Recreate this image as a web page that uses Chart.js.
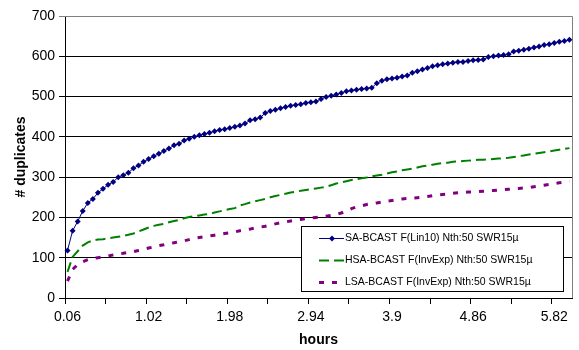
<!DOCTYPE html>
<html>
<head>
<meta charset="utf-8">
<script src="https://cdn.jsdelivr.net/npm/chart.js@4.4.1/dist/chart.umd.min.js"></script>
<style>
  html, body { margin: 0; padding: 0; background: #fff; }
  #wrap { width: 579px; height: 350px; position: relative; }
</style>
</head>
<body>
<div id="wrap"><canvas id="chart"></canvas></div>
<script>
// hours (one category every 0.06 h)
const hours = [
  0.06, 0.12, 0.18, 0.24, 0.3, 0.36, 0.42, 0.48, 0.54, 0.6,
  0.66, 0.72, 0.78, 0.84, 0.9, 0.96, 1.02, 1.08, 1.14, 1.2,
  1.26, 1.32, 1.38, 1.44, 1.5, 1.56, 1.62, 1.68, 1.74, 1.8,
  1.86, 1.92, 1.98, 2.04, 2.1, 2.16, 2.22, 2.28, 2.34, 2.4,
  2.46, 2.52, 2.58, 2.64, 2.7, 2.76, 2.82, 2.88, 2.94, 3,
  3.06, 3.12, 3.18, 3.24, 3.3, 3.36, 3.42, 3.48, 3.54, 3.6,
  3.66, 3.72, 3.78, 3.84, 3.9, 3.96, 4.02, 4.08, 4.14, 4.2,
  4.26, 4.32, 4.38, 4.44, 4.5, 4.56, 4.62, 4.68, 4.74, 4.8,
  4.86, 4.92, 4.98, 5.04, 5.1, 5.16, 5.22, 5.28, 5.34, 5.4,
  5.46, 5.52, 5.58, 5.64, 5.7, 5.76, 5.82, 5.88, 5.94, 6
];

const saBcast = [
  118, 167, 190, 216, 236, 246, 261, 271, 281, 288,
  300, 305, 311, 322, 329, 338, 345, 352, 358, 365,
  371, 379, 383, 391, 395, 400, 404, 407, 410, 414,
  417, 419, 422, 425, 428, 433, 441, 444, 448, 459,
  464, 467, 471, 474, 477, 479, 481, 484, 486, 488,
  494, 499, 502, 505, 509, 513, 515, 517, 519, 520,
  522, 533, 539, 543, 545, 547, 550, 552, 559, 563,
  567, 571, 575, 578, 580, 582, 584, 586, 586, 588,
  590, 591, 592, 598, 600, 602, 603, 605, 612, 614,
  616, 619, 622, 624, 628, 630, 633, 636, 638, 641
];

const hsaBcast = [
  65, 102, 116, 130, 138, 143, 145, 146, 148, 150,
  152, 154, 157, 160, 165, 170, 175, 179, 182, 184,
  188, 191, 194, 198, 201, 203, 205, 207, 209, 212,
  215, 218, 221, 223, 230, 233, 237, 240, 243, 246,
  250, 253, 256, 259, 262, 264, 266, 268, 270, 272,
  274, 276, 280, 284, 287, 290, 293, 295, 297, 299,
  302, 304, 306, 309, 312, 314, 317, 319, 321, 324,
  327, 329, 331, 333, 335, 336, 338, 339, 340, 341,
  342, 343, 343, 344, 345, 346, 347, 348, 350, 352,
  354, 356, 358, 360, 362, 364, 366, 368, 370, 372
];

const lsaBcast = [
  42, 71, 83, 90, 95, 98, 100, 102, 104, 107,
  109, 111, 113, 115, 118, 121, 124, 127, 130, 132,
  135, 137, 140, 142, 145, 148, 150, 152, 154, 156,
  158, 160, 162, 164, 167, 169, 171, 174, 176, 178,
  181, 184, 187, 189, 191, 193, 195, 197, 199, 200,
  201, 203, 205, 208, 211, 216, 222, 226, 229, 232,
  234, 236, 238, 240, 242, 244, 246, 247, 248, 249,
  250, 252, 254, 256, 257, 258, 260, 261, 262, 263,
  263, 264, 265, 266, 267, 268, 269, 270, 271, 272,
  273, 274, 276, 278, 280, 282, 284, 286, 288, 290
];

const seriesNames = [
  'SA-BCAST F(Lin10) Nth:50 SWR15\u00b5',
  'HSA-BCAST F(InvExp) Nth:50 SWR15\u00b5',
  'LSA-BCAST F(InvExp) Nth:50 SWR15\u00b5'
];

const FONT = "'Liberation Sans', Arial, sans-serif";

// gray frame on top and right of the plot area
const plotFrame = {
  id: 'plotFrame',
  beforeDatasetsDraw(chart) {
    const { ctx, chartArea: a } = chart;
    ctx.save();
    ctx.strokeStyle = '#808080';
    ctx.lineWidth = 1;
    ctx.beginPath();
    ctx.moveTo(a.left, Math.round(a.top) + 0.5);
    ctx.lineTo(Math.round(a.right) + 0.5, Math.round(a.top) + 0.5);
    ctx.lineTo(Math.round(a.right) + 0.5, a.bottom);
    ctx.stroke();
    ctx.restore();
  }
};

// boxed legend inside the plot, bottom right
const boxLegend = {
  id: 'boxLegend',
  afterDraw(chart) {
    const { ctx, chartArea: a } = chart;
    const w = 262, h = 65;
    const x = Math.round(a.right - 9 - w), y = Math.round(a.bottom - 7 - h);
    ctx.save();
    ctx.fillStyle = '#fff';
    ctx.fillRect(x, y, w, h);
    ctx.strokeStyle = '#000';
    ctx.lineWidth = 1;
    ctx.strokeRect(x + 0.5, y + 0.5, w, h);
    ctx.font = '10.5px ' + FONT;
    ctx.textBaseline = 'middle';
    chart.data.datasets.forEach((ds, i) => {
      const cy = Math.round(y + 11.5 + i * 22) + 0.5;
      ctx.save();
      ctx.strokeStyle = ds.borderColor;
      ctx.lineWidth = ds.borderWidth;
      ctx.setLineDash(ds.borderDash || []);
      ctx.beginPath();
      ctx.moveTo(x + 18, cy);
      ctx.lineTo(x + 43, cy);
      ctx.stroke();
      ctx.restore();
      if (ds.pointRadius > 0) {
        const r = ds.pointRadius;
        ctx.fillStyle = ds.pointBackgroundColor;
        ctx.beginPath();
        ctx.moveTo(x + 31, cy - r);
        ctx.lineTo(x + 31 + r, cy);
        ctx.lineTo(x + 31, cy + r);
        ctx.lineTo(x + 31 - r, cy);
        ctx.closePath();
        ctx.fill();
      }
      ctx.fillStyle = '#000';
      ctx.fillText(ds.label, x + 44, cy);
    });
    ctx.restore();
  }
};

new Chart(document.getElementById('chart'), {
  type: 'line',
  data: {
    labels: hours.map(String),
    datasets: [
      {
        label: seriesNames[0],
        data: saBcast,
        borderColor: '#000080',
        backgroundColor: '#000080',
        borderWidth: 1,
        pointStyle: 'rectRot',
        pointRadius: 3,
        pointBackgroundColor: '#000080',
        pointBorderColor: '#000080',
        pointBorderWidth: 0,
        tension: 0
      },
      {
        label: seriesNames[1],
        data: hsaBcast,
        borderColor: '#008000',
        borderWidth: 2,
        borderDash: [10, 5],
        pointRadius: 0,
        tension: 0
      },
      {
        label: seriesNames[2],
        data: lsaBcast,
        borderColor: '#800080',
        borderWidth: 3,
        borderDash: [5, 8],
        pointRadius: 0,
        tension: 0
      }
    ]
  },
  options: {
    responsive: true,
    maintainAspectRatio: false,
    animation: false,
    layout: { padding: { top: 16, right: 7, bottom: 0, left: 0 } },
    plugins: {
      legend: { display: false },
      tooltip: { enabled: false }
    },
    scales: {
      x: {
        type: 'category',
        offset: true,
        afterFit: s => { s.height = 52; },
        grid: {
          offset: true,
          drawOnChartArea: false,
          drawTicks: true,
          tickLength: 6,
          color: c => (c.index % 8 === 0 ? '#000' : 'rgba(0,0,0,0)')
        },
        border: { color: '#000', width: 1 },
        ticks: {
          autoSkip: false,
          maxRotation: 0,
          minRotation: 0,
          padding: 5,
          color: '#000',
          font: { family: FONT, size: 14 },
          callback: (v, i) => (i % 16 === 0 ? hours[i] : '')
        },
        title: {
          display: true,
          text: 'hours',
          color: '#000',
          font: { family: FONT, size: 14, weight: 'bold' },
          padding: { top: 0, bottom: 1 }
        }
      },
      y: {
        min: 0,
        max: 700,
        afterFit: s => { s.width = 65; },
        grid: {
          tickLength: 6,
          color: c => (c.tick && c.tick.value === 700 ? '#808080' : '#000')
        },
        border: { color: '#000', width: 1 },
        ticks: {
          stepSize: 100,
          padding: 4,
          color: '#000',
          font: { family: FONT, size: 14 }
        },
        title: {
          display: true,
          text: '# duplicates',
          color: '#000',
          font: { family: FONT, size: 14, weight: 'bold' },
          padding: { top: 13, bottom: 0 }
        }
      }
    }
  },
  plugins: [plotFrame, boxLegend]
});
</script>
</body>
</html>
